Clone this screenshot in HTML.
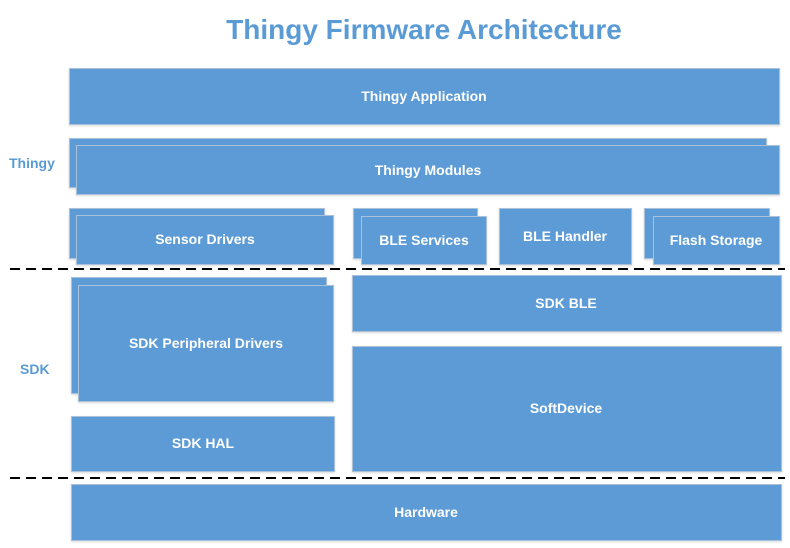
<!DOCTYPE html>
<html><head><meta charset="utf-8"><style>
html,body{margin:0;padding:0;background:#fff;}
svg{display:block;}
text{font-family:"Liberation Sans",sans-serif;font-weight:bold;}
</style></head><body>
<svg width="790" height="548" viewBox="0 0 790 548" xmlns="http://www.w3.org/2000/svg">
<defs>
<filter id="sh" x="-5%" y="-5%" width="110%" height="120%"><feDropShadow dx="0" dy="1" stdDeviation="1" flood-color="#000" flood-opacity="0.15"/></filter>
</defs>
<text x="424" y="39" text-anchor="middle" font-size="28" fill="#5B9BD5">Thingy Firmware Architecture</text>
<g fill="#5B9BD5" stroke="#A9C1D9" stroke-width="1" filter="url(#sh)">
<rect x="69.5" y="68.5" width="710" height="56"/>
<rect x="69.5" y="138.5" width="697" height="49"/>
<rect x="76.5" y="145.5" width="703" height="49"/>
<rect x="69.5" y="208.5" width="255" height="50"/>
<rect x="76.5" y="215.5" width="257" height="49"/>
<rect x="353.5" y="208.5" width="124" height="50"/>
<rect x="361.5" y="216.5" width="125" height="48"/>
<rect x="499.5" y="208.5" width="132" height="56"/>
<rect x="644.5" y="208.5" width="125" height="50"/>
<rect x="653.5" y="216.5" width="126" height="48"/>
<rect x="71.5" y="277.5" width="255" height="116"/>
<rect x="78.5" y="285.5" width="255" height="116"/>
<rect x="352.5" y="275.5" width="429" height="56"/>
<rect x="352.5" y="346.5" width="429" height="125"/>
<rect x="71.5" y="416.5" width="263" height="55"/>
<rect x="71.5" y="484.5" width="710" height="56"/>
</g>
<g stroke="#000" stroke-width="2" stroke-dasharray="10,6">
<line x1="10" y1="269" x2="785" y2="269"/>
<line x1="10" y1="478" x2="785" y2="478"/>
</g>
<g fill="#fff" font-size="14" text-anchor="middle">
<text x="424" y="101">Thingy Application</text>
<text x="428" y="175">Thingy Modules</text>
<text x="205" y="244">Sensor Drivers</text>
<text x="424" y="245">BLE Services</text>
<text x="565" y="241">BLE Handler</text>
<text x="716" y="245">Flash Storage</text>
<text x="206" y="348">SDK Peripheral Drivers</text>
<text x="566" y="308">SDK BLE</text>
<text x="566" y="413">SoftDevice</text>
<text x="203" y="448">SDK HAL</text>
<text x="426" y="517">Hardware</text>
</g>
<g fill="#5B9BD5" font-size="14">
<text x="9" y="168">Thingy</text>
<text x="20" y="374">SDK</text>
</g>
</svg>
</body></html>
